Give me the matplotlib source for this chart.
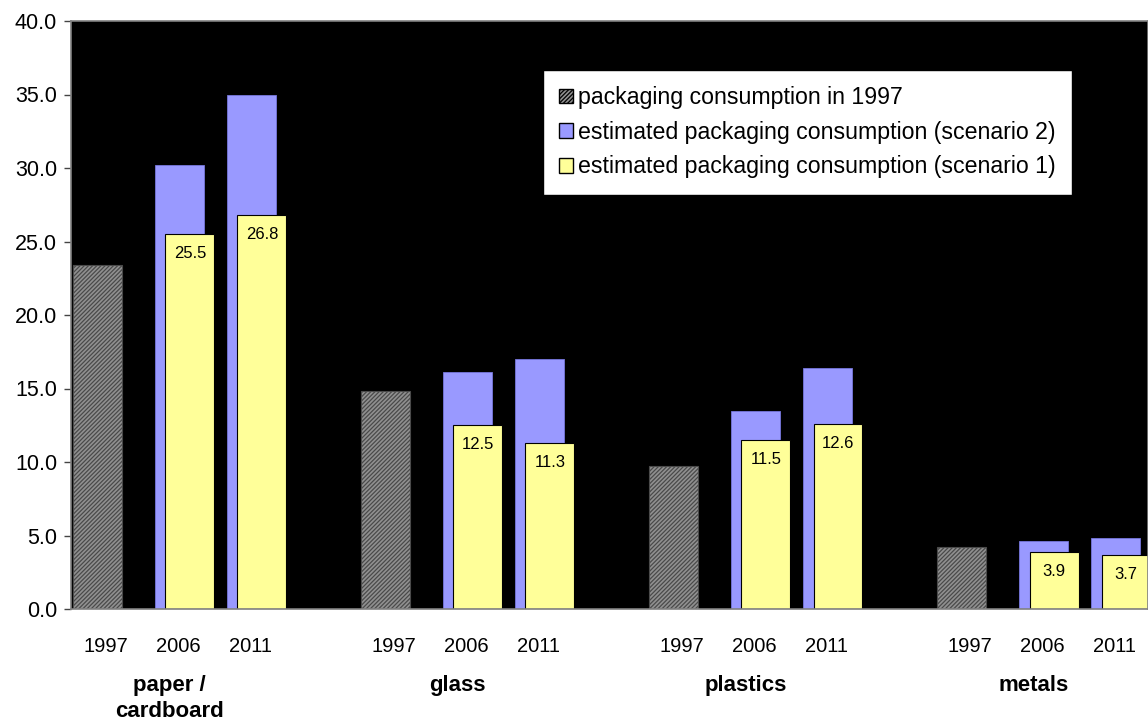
import matplotlib.pyplot as plt
import matplotlib.patches as mpatches
from matplotlib.transforms import blended_transform_factory

plt.rcParams['font.family'] = ['Liberation Sans', 'DejaVu Sans']
plt.rcParams['hatch.linewidth'] = 0.9

# Packaging consumption per material (values read per year)
materials = ['paper /\ncardboard', 'glass', 'plastics', 'metals']
years = ['1997', '2006', '2011']
cons_1997 = [23.4, 14.8, 9.7, 4.2]
scen2_2006 = [30.2, 16.1, 13.5, 4.6]
scen2_2011 = [35.0, 17.0, 16.4, 4.8]
scen1_2006 = [25.5, 12.5, 11.5, 3.9]
scen1_2011 = [26.8, 11.3, 12.6, 3.7]

fig = plt.figure(figsize=(11.48, 7.2), dpi=100)
ax = fig.add_axes([71 / 1148, 111 / 720, 1 - 71 / 1148, (609 - 21) / 720])
ax.set_facecolor('black')

w = 0.68
grey = '#909090'
blue = '#9999ff'
yellow = '#ffff99'

for g in range(len(materials)):
    base = g * 4
    ax.bar(base - 0.12, cons_1997[g], w, color=grey, edgecolor='#4a4a4a',
           hatch='////////', linewidth=0.8)
    for k, (s2, s1) in enumerate([(scen2_2006, scen1_2006), (scen2_2011, scen1_2011)]):
        xs = base + 1 + k
        ax.bar(xs + 0.02, s2[g], w, color=blue, edgecolor='#7777dd', linewidth=0.6)
        ax.bar(xs + 0.165, s1[g], w, color=yellow, edgecolor='black', linewidth=0.8)
        ax.annotate(f'{s1[g]:.1f}', (xs + 0.165, s1[g]), xytext=(0, -14),
                    textcoords='offset points', ha='center', va='center',
                    fontsize=12, color='black')

# year labels under every bar slot
xt = [g * 4 + k for g in range(len(materials)) for k in range(3)]
ax.set_xticks(xt)
ax.set_xticklabels(years * len(materials), fontsize=14.5)
ax.tick_params(axis='x', length=0, pad=20)

trans = blended_transform_factory(ax.transData, ax.transAxes)
for g, name in enumerate(materials):
    ax.text(g * 4 + 0.88, -0.112, name, transform=trans, ha='center', va='top',
            fontsize=16, fontweight='bold', linespacing=1.3)

ax.set_xlim(-0.486, 14.47)
ax.set_ylim(0, 40)
ax.set_yticks(range(0, 41, 5))
ax.set_yticklabels([f'{v:.1f}' for v in range(0, 41, 5)], fontsize=15.5)
ax.tick_params(axis='y', length=5, width=1, color='#444444', pad=5)

for sp in ax.spines.values():
    sp.set_color('#808080')
    sp.set_linewidth(1.2)

handles = [
    mpatches.Patch(facecolor=grey, edgecolor='black', hatch='////////', label='packaging consumption in 1997'),
    mpatches.Patch(facecolor=blue, edgecolor='black', label='estimated packaging consumption (scenario 2)'),
    mpatches.Patch(facecolor=yellow, edgecolor='black', label='estimated packaging consumption (scenario 1)'),
]
leg = ax.legend(handles=handles, loc='upper left', bbox_to_anchor=((543 - 71) / 1077, 1 - (70 - 21) / 588),
                fontsize=16.7, frameon=True, fancybox=False, framealpha=1, edgecolor='black',
                handlelength=0.6, handleheight=0.6, handletextpad=0.2,
                labelspacing=0.5, borderpad=0.7, borderaxespad=0)
leg.get_frame().set_linewidth(1.0)

fig.savefig('out.png', dpi=100)
